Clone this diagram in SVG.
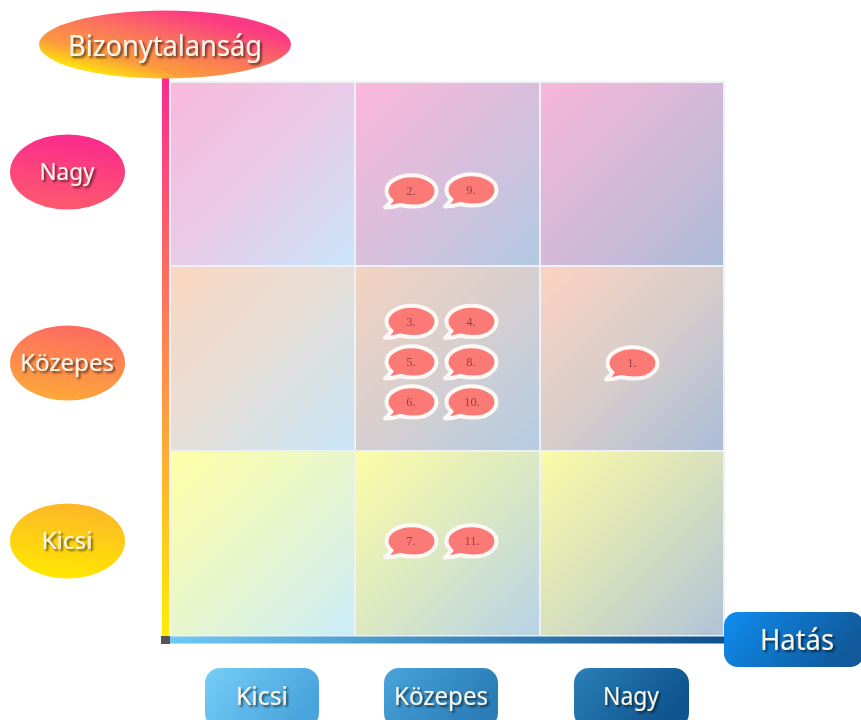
<svg xmlns="http://www.w3.org/2000/svg" width="861" height="720" viewBox="0 0 861 720">
<style>
.lab{font-family:"Noto Sans","DejaVu Sans Condensed",sans-serif;fill:#fbf6ea;text-anchor:middle;filter:url(#ts)}
.num{font-family:"Liberation Serif",serif;font-size:12.5px;fill:#9a3f42;text-anchor:middle}
.cell{stroke:#eef0f5;stroke-width:2}
.bub{fill:#fb7a76;stroke:#fbf8f6;stroke-width:4;stroke-linejoin:round}
.risk{filter:url(#soft)}
</style>
<defs>
<filter id="ts" x="-20%" y="-20%" width="140%" height="140%"><feGaussianBlur in="SourceAlpha" stdDeviation="1.3"/><feOffset dx="2" dy="2"/><feComponentTransfer result="sh"><feFuncA type="linear" slope=".6"/></feComponentTransfer><feGaussianBlur in="SourceGraphic" stdDeviation=".35" result="tx"/><feMerge><feMergeNode in="sh"/><feMergeNode in="tx"/></feMerge></filter>
<filter id="soft" x="-10%" y="-10%" width="120%" height="120%"><feGaussianBlur stdDeviation=".45"/></filter>
<linearGradient id="c11" x1="0" y1="0" x2="1" y2="1"><stop offset="0" stop-color="#fab8dc"/><stop offset=".5" stop-color="#e8cbe8"/><stop offset="1" stop-color="#c9e4fa"/></linearGradient>
<linearGradient id="c12" x1="0" y1="0" x2="1" y2="1"><stop offset="0" stop-color="#fcb6dc"/><stop offset=".5" stop-color="#d9bfdc"/><stop offset="1" stop-color="#b2c9e3"/></linearGradient>
<linearGradient id="c13" x1="0" y1="0" x2="1" y2="1"><stop offset="0" stop-color="#f9b6da"/><stop offset=".5" stop-color="#d4b9d8"/><stop offset="1" stop-color="#abbcd8"/></linearGradient>
<linearGradient id="c21" x1="0" y1="0" x2="1" y2="1"><stop offset="0" stop-color="#fcd6bf"/><stop offset=".5" stop-color="#e6dfd8"/><stop offset="1" stop-color="#c7e6f8"/></linearGradient>
<linearGradient id="c22" x1="0" y1="0" x2="1" y2="1"><stop offset="0" stop-color="#f4d2bf"/><stop offset=".5" stop-color="#d6cfcf"/><stop offset="1" stop-color="#b3cce3"/></linearGradient>
<linearGradient id="c23" x1="0" y1="0" x2="1" y2="1"><stop offset="0" stop-color="#fcd3bf"/><stop offset=".5" stop-color="#d8cdcb"/><stop offset="1" stop-color="#aabdd8"/></linearGradient>
<linearGradient id="c31" x1="0" y1="0" x2="1" y2="1"><stop offset="0" stop-color="#ffffa6"/><stop offset=".5" stop-color="#e8f6cc"/><stop offset="1" stop-color="#caedfb"/></linearGradient>
<linearGradient id="c32" x1="0" y1="0" x2="1" y2="1"><stop offset="0" stop-color="#fdfda6"/><stop offset=".5" stop-color="#dbe8c2"/><stop offset="1" stop-color="#b6d3e7"/></linearGradient>
<linearGradient id="c33" x1="0" y1="0" x2="1" y2="1"><stop offset="0" stop-color="#fbfba6"/><stop offset=".5" stop-color="#d8e0bd"/><stop offset="1" stop-color="#afc3d9"/></linearGradient>
<linearGradient id="vaxis" x1="0" y1="0" x2="0" y2="1"><stop offset="0" stop-color="#fb2a8e"/><stop offset=".5" stop-color="#fe8a50"/><stop offset="1" stop-color="#ffee00"/></linearGradient>
<linearGradient id="haxis" x1="0" y1="0" x2="1" y2="0"><stop offset="0" stop-color="#6fc8f4"/><stop offset="1" stop-color="#0f4f8c"/></linearGradient>
<linearGradient id="gB" x1="0.035" y1="1" x2="0.965" y2="0"><stop offset=".15" stop-color="#ffdc10"/><stop offset=".3" stop-color="#fb9a3c"/><stop offset=".55" stop-color="#fb7060"/><stop offset=".8" stop-color="#fb3a84"/></linearGradient>
<linearGradient id="gN" x1="0.6" y1="0" x2="0.4" y2="1"><stop offset="0" stop-color="#fb2a8e"/><stop offset="1" stop-color="#fd5a6c"/></linearGradient>
<linearGradient id="gK" x1="0.6" y1="0" x2="0.4" y2="1"><stop offset="0" stop-color="#fd6a62"/><stop offset="1" stop-color="#fea838"/></linearGradient>
<linearGradient id="gS" x1="0.6" y1="0" x2="0.4" y2="1"><stop offset="0" stop-color="#fdb628"/><stop offset="1" stop-color="#ffe800"/></linearGradient>
<linearGradient id="h1" x1="0" y1="0" x2="1" y2="0.4"><stop offset="0" stop-color="#76cdf7"/><stop offset="1" stop-color="#4aa4dc"/></linearGradient>
<linearGradient id="h2" x1="0" y1="0" x2="1" y2="0.4"><stop offset="0" stop-color="#49a3da"/><stop offset="1" stop-color="#2a7db6"/></linearGradient>
<linearGradient id="h3" x1="0" y1="0" x2="1" y2="0.4"><stop offset="0" stop-color="#2a7fb8"/><stop offset="1" stop-color="#0f548f"/></linearGradient>
<linearGradient id="h4" x1="0" y1="0" x2="1" y2="0.3"><stop offset="0" stop-color="#0f8df0"/><stop offset="1" stop-color="#105a9c"/></linearGradient>
<path id="b" class="bub" d="M-20,9.500 C-22,12 -24,14 -26.500,16.500 C-21,16.500 -16,15.500 -11,14 C-4,16 6,16 12,14.300 C20,12 25,6 25,0 C25,-8.800 13.500,-15.800 0,-15.800 C-13.500,-15.800 -25,-8.800 -25,0 C-25,3.800 -23,7 -20,9.500 Z"/>
</defs>

<g id="grid" filter="url(#soft)">
<rect id="cell-1-1" class="cell" x="170" y="82" width="185" height="184" fill="url(#c11)"/>
<rect id="cell-1-2" class="cell" x="355" y="82" width="185" height="184" fill="url(#c12)"/>
<rect id="cell-1-3" class="cell" x="540" y="82" width="184" height="184" fill="url(#c13)"/>
<rect id="cell-2-1" class="cell" x="170" y="266" width="185" height="185" fill="url(#c21)"/>
<rect id="cell-2-2" class="cell" x="355" y="266" width="185" height="185" fill="url(#c22)"/>
<rect id="cell-2-3" class="cell" x="540" y="266" width="184" height="185" fill="url(#c23)"/>
<rect id="cell-3-1" class="cell" x="170" y="451" width="185" height="185" fill="url(#c31)"/>
<rect id="cell-3-2" class="cell" x="355" y="451" width="185" height="185" fill="url(#c32)"/>
<rect id="cell-3-3" class="cell" x="540" y="451" width="184" height="185" fill="url(#c33)"/>
</g>

<g id="connectors">
<rect x="162" y="78" width="7" height="558" fill="url(#vaxis)"/>
<rect x="161" y="636" width="9" height="8" fill="#555"/>
<rect x="170" y="636.500" width="556" height="7" fill="url(#haxis)"/>
</g>

<g id="axis-uncertainty"><ellipse cx="165" cy="44.500" rx="126" ry="34" fill="url(#gB)"/><text class="lab" x="165" y="56" font-size="29" textLength="194" lengthAdjust="spacingAndGlyphs">Bizonytalanság</text></g>
<g id="u-high"><ellipse cx="67.500" cy="172" rx="57.500" ry="37.500" fill="url(#gN)"/><text class="lab" x="67" y="180" font-size="24" textLength="55" lengthAdjust="spacingAndGlyphs">Nagy</text></g>
<g id="u-mid"><ellipse cx="67.500" cy="363" rx="57.500" ry="37.500" fill="url(#gK)"/><text class="lab" x="67" y="371" font-size="24" textLength="94" lengthAdjust="spacingAndGlyphs">Közepes</text></g>
<g id="u-low"><ellipse cx="67.500" cy="541" rx="57.500" ry="37.500" fill="url(#gS)"/><text class="lab" x="67" y="549" font-size="24" textLength="51" lengthAdjust="spacingAndGlyphs">Kicsi</text></g>

<g id="axis-impact"><rect x="724" y="612" width="140" height="55" rx="14" fill="url(#h4)"/><text class="lab" x="797" y="650" font-size="29" textLength="74" lengthAdjust="spacingAndGlyphs">Hatás</text></g>
<g id="i-low"><rect x="205" y="668" width="114" height="60" rx="15" fill="url(#h1)"/><text class="lab" x="262" y="705" font-size="26" textLength="52" lengthAdjust="spacingAndGlyphs">Kicsi</text></g>
<g id="i-mid"><rect x="384" y="668" width="114" height="60" rx="15" fill="url(#h2)"/><text class="lab" x="441" y="705" font-size="26" textLength="94" lengthAdjust="spacingAndGlyphs">Közepes</text></g>
<g id="i-high"><rect x="574" y="668" width="115" height="60" rx="15" fill="url(#h3)"/><text class="lab" x="631" y="705" font-size="26" textLength="56" lengthAdjust="spacingAndGlyphs">Nagy</text></g>

<g id="risk-2" class="risk"><use href="#b" x="411.500" y="191"/><text class="num" x="411" y="195">2.</text></g>
<g id="risk-9" class="risk"><use href="#b" x="471.500" y="190"/><text class="num" x="471" y="194">9.</text></g>
<g id="risk-3" class="risk"><use href="#b" x="411.500" y="321.500"/><text class="num" x="411" y="326">3.</text></g>
<g id="risk-4" class="risk"><use href="#b" x="471.500" y="321.500"/><text class="num" x="471" y="326">4.</text></g>
<g id="risk-5" class="risk"><use href="#b" x="411.500" y="362"/><text class="num" x="411" y="366">5.</text></g>
<g id="risk-8" class="risk"><use href="#b" x="471.500" y="362"/><text class="num" x="471" y="366">8.</text></g>
<g id="risk-6" class="risk"><use href="#b" x="411.500" y="402"/><text class="num" x="411" y="406">6.</text></g>
<g id="risk-10" class="risk"><use href="#b" x="471.500" y="402"/><text class="num" x="472" y="406">10.</text></g>
<g id="risk-1" class="risk"><use href="#b" x="632.500" y="363"/><text class="num" x="632" y="367">1.</text></g>
<g id="risk-7" class="risk"><use href="#b" x="411.500" y="541"/><text class="num" x="411" y="545">7.</text></g>
<g id="risk-11" class="risk"><use href="#b" x="471.500" y="541"/><text class="num" x="472" y="545">11.</text></g>
</svg>
